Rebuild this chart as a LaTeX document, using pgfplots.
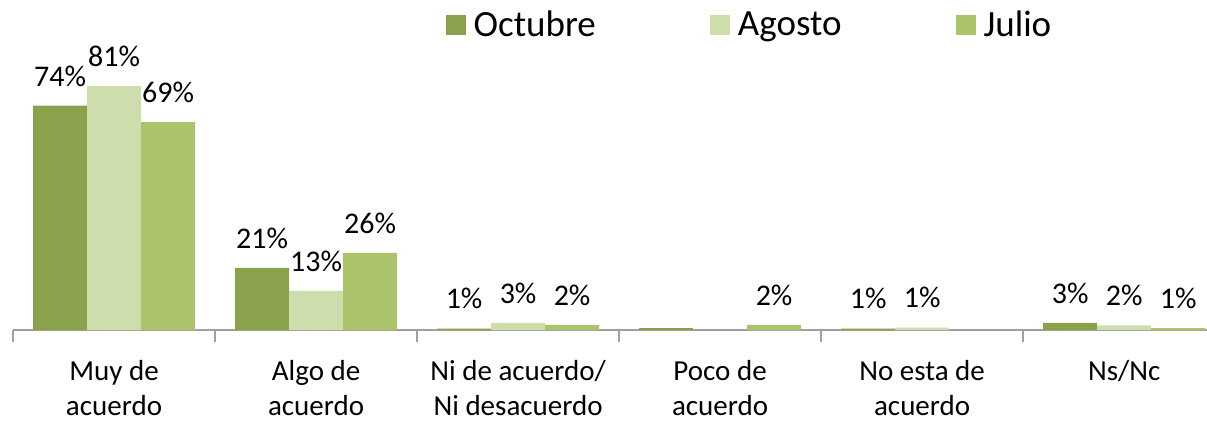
\documentclass[border=0pt]{standalone}
\usepackage{pgfplots}
\pgfplotsset{compat=1.18}
\usepackage{fontspec}
\setmainfont{Carlito}

\definecolor{octubre}{RGB}{139,162,77}
\definecolor{agosto}{RGB}{205,221,172}
\definecolor{julio}{RGB}{171,195,107}
\definecolor{axisgray}{RGB}{160,160,160}

\pgfplotsset{
  sq legend/.style={legend image code/.code={\fill[##1] (0pt,-5pt) rectangle (10pt,5pt);}},
  lbl/.style={nodes near coords, point meta=explicit symbolic},
}

\begin{document}
\begin{tikzpicture}
\useasboundingbox (-6.5pt,-46.5pt) rectangle (597pt,165pt);
\begin{axis}[
    scale only axis,
    width=597pt, height=135.5pt,
    xmin=-0.5, xmax=5.41,
    ymin=0, ymax=90,
    ybar, bar width=27pt,
    clip=false,
    axis x line*=bottom,
    axis y line=none,
    x axis line style={axisgray, line width=1pt},
    xtick={0,1,2,3,4,5},
    xticklabels={Muy de\\acuerdo, Algo de\\acuerdo, Ni de acuerdo/\\Ni desacuerdo,
                 Poco de\\acuerdo, No esta de\\acuerdo, Ns/Nc},
    major tick length=0pt,
    minor xtick={-0.5,0.5,1.5,2.5,3.5,4.5},
    minor tick length=6pt,
    tick align=outside,
    x tick style={axisgray, line width=1pt},
    xticklabel style={font=\fontsize{14.5}{17.5}\selectfont, align=center, yshift=-11.5pt},
    every node near coord/.append style={font=\fontsize{15}{18}\selectfont,
        inner sep=0pt, anchor=south, yshift=9.5pt},
    legend columns=3,
    legend style={at={(0.357,1.1255)}, anchor=west, draw=none, fill=none,
        font=\fontsize{18.5}{20}\selectfont,
        /tikz/every odd column/.append style={column sep=2pt},
        /tikz/every even column/.append style={column sep=55pt}},
]
\addplot[fill=octubre, draw=none, bar shift=-27pt, sq legend, lbl] coordinates {
    (0,74.5) [74\%]
    (1,20.6) [21\%]
    (2,0.45) [1\%]
    (4,0.45) [1\%]
    (5,2.4)  [3\%]
};
\addlegendentry{Octubre}
\addplot[fill=agosto, draw=none, bar shift=0pt, sq legend, lbl] coordinates {
    (0,81)   [81\%]
    (1,13)   [13\%]
    (2,2.4)  [3\%]
    (4,0.8)  [1\%]
    (5,1.5)  [2\%]
};
\addlegendentry{Agosto}
\addplot[fill=julio, draw=none, bar shift=27pt, sq legend, lbl] coordinates {
    (0,69)   [69\%]
    (1,25.6) [26\%]
    (2,1.7)  [2\%]
    (3,1.7)  [2\%]
    (5,0.6)  [1\%]
};
\addlegendentry{Julio}
\addplot[fill=octubre, draw=none, bar shift=-27pt, forget plot] coordinates {(3,0.6)};
\end{axis}
\end{tikzpicture}
\end{document}
